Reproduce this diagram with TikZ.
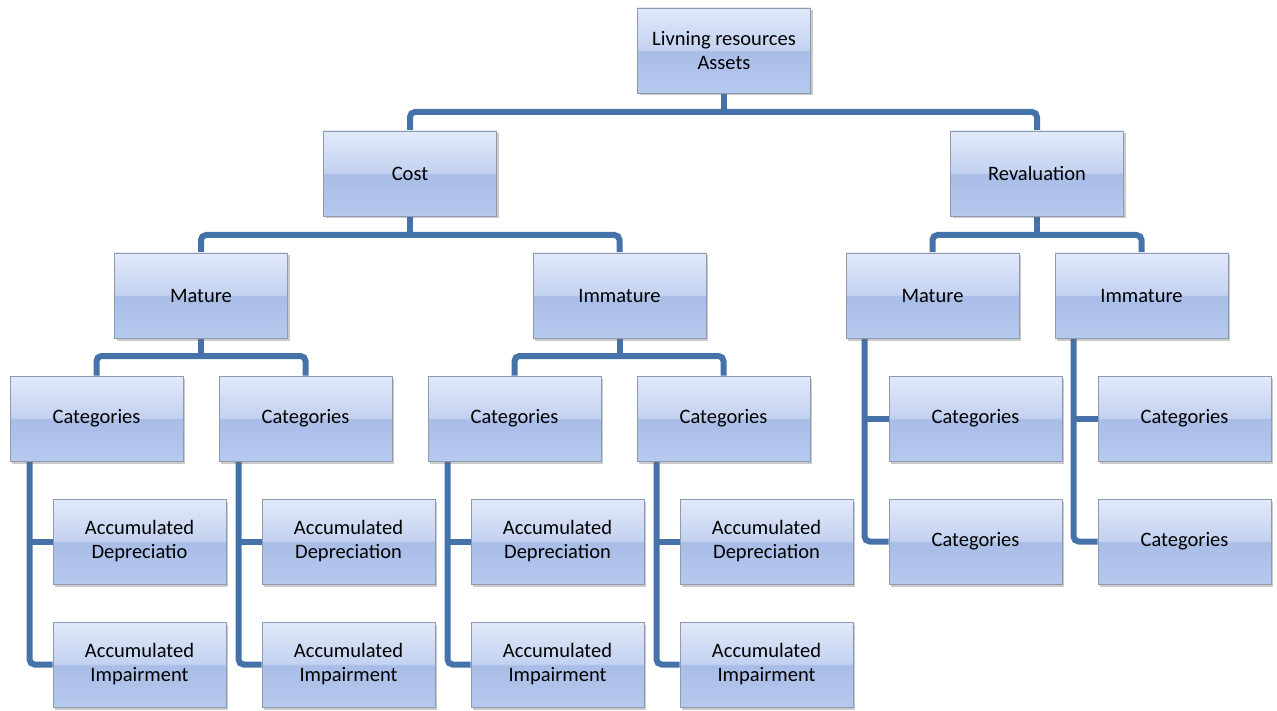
\documentclass[tikz,border=0pt]{standalone}
\usepackage{fontspec}
\setmainfont{Carlito}
\usetikzlibrary{shadows,backgrounds}
\definecolor{shtop}{HTML}{E2E9FA}
\definecolor{shmidA}{HTML}{C3D2F0}
\definecolor{shmidB}{HTML}{A8BDE7}
\definecolor{shbot}{HTML}{B6C9EE}
\definecolor{connc}{HTML}{4672AA}
\definecolor{boxline}{HTML}{8E9AAE}
\pgfdeclareverticalshading{boxshade}{100bp}{color(0bp)=(shbot); color(25bp)=(shbot); color(49.5bp)=(shmidB); color(50.5bp)=(shmidA); color(75bp)=(shtop); color(100bp)=(shtop)}
\tikzset{
  box/.style={draw=boxline, line width=0.9pt, shading=boxshade, minimum width=173pt, minimum height=85pt, inner sep=0pt, align=center, font=\fontsize{20.5}{24}\selectfont, text=black,
    drop shadow={opacity=0.35, shadow xshift=2pt, shadow yshift=-2.5pt, fill=black!60}},
  conn/.style={draw=connc, line width=6pt, rounded corners=5pt}
}
\begin{document}
\begin{tikzpicture}[x=1pt,y=-1pt]
\useasboundingbox (0,0) rectangle (1277,711);
% level 0
\node[box] (top) at (724,50.5) {Livning resources\\Assets};
% level 1
\node[box] (cost) at (410,173.5) {Cost};
\node[box] (rev) at (1037,173.5) {Revaluation};
% level 2
\node[box] (mat1) at (201,295.5) {Mature};
\node[box] (imm1) at (619.5,295.5) {Immature};
\node[box] (mat2) at (932.5,295.5) {Mature};
\node[box] (imm2) at (1141.5,295.5) {Immature};
% level 3
\node[box] (c1) at (96.5,418.5) {Categories};
\node[box] (c2) at (305.5,418.5) {Categories};
\node[box] (c3) at (514.5,418.5) {Categories};
\node[box] (c4) at (723.5,418.5) {Categories};
\node[box] (c5) at (975.5,418.5) {Categories};
\node[box] (c6) at (1184.5,418.5) {Categories};
% level 4
\node[box] (a1) at (139.5,541.5) {Accumulated\\Depreciatio};
\node[box] (a2) at (348.5,541.5) {Accumulated\\Depreciation};
\node[box] (a3) at (557.5,541.5) {Accumulated\\Depreciation};
\node[box] (a4) at (766.5,541.5) {Accumulated\\Depreciation};
\node[box] (c7) at (975.5,541.5) {Categories};
\node[box] (c8) at (1184.5,541.5) {Categories};
% level 5
\node[box] (i1) at (139.5,664.5) {Accumulated\\Impairment};
\node[box] (i2) at (348.5,664.5) {Accumulated\\Impairment};
\node[box] (i3) at (557.5,664.5) {Accumulated\\Impairment};
\node[box] (i4) at (766.5,664.5) {Accumulated\\Impairment};
% junctions
\coordinate (j0) at (724,112);
\coordinate (j1) at (410,235);
\coordinate (j2) at (1037,235);
\coordinate (j3) at (201,356);
\coordinate (j4) at (619.5,356);
\begin{scope}[on background layer]
\draw[conn] (top.south) -- (j0);
\draw[conn] (cost.north) |- (j0) -| (rev.north);
\draw[conn] (cost.south) -- (j1);
\draw[conn] (mat1.north) |- (j1) -| (imm1.north);
\draw[conn] (rev.south) -- (j2);
\draw[conn] (mat2.north) |- (j2) -| (imm2.north);
\draw[conn] (mat1.south) -- (j3);
\draw[conn] (c1.north) |- (j3) -| (c2.north);
\draw[conn] (imm1.south) -- (j4);
\draw[conn] (c3.north) |- (j4) -| (c4.north);
% vertical spines
\foreach \p/\a/\b in {c1/a1/i1, c2/a2/i2, c3/a3/i3, c4/a4/i4, mat2/c5/c8, imm2/c6/c8}{
}
\coordinate (v1) at ([xshift=20pt]c1.south west);
\coordinate (v2) at ([xshift=20pt]c2.south west);
\coordinate (v3) at ([xshift=20pt]c3.south west);
\coordinate (v4) at ([xshift=20pt]c4.south west);
\coordinate (v5) at ([xshift=19pt]mat2.south west);
\coordinate (v6) at ([xshift=19pt]imm2.south west);
\draw[conn] (v1) |- (i1.west);
\draw[conn] (v1 |- a1.west) -- (a1.west);
\draw[conn] (v2) |- (i2.west);
\draw[conn] (v2 |- a2.west) -- (a2.west);
\draw[conn] (v3) |- (i3.west);
\draw[conn] (v3 |- a3.west) -- (a3.west);
\draw[conn] (v4) |- (i4.west);
\draw[conn] (v4 |- a4.west) -- (a4.west);
\draw[conn] (v5) |- (c7.west);
\draw[conn] (v5 |- c5.west) -- (c5.west);
\draw[conn] (v6) |- (c8.west);
\draw[conn] (v6 |- c6.west) -- (c6.west);
\end{scope}
\end{tikzpicture}
\end{document}
